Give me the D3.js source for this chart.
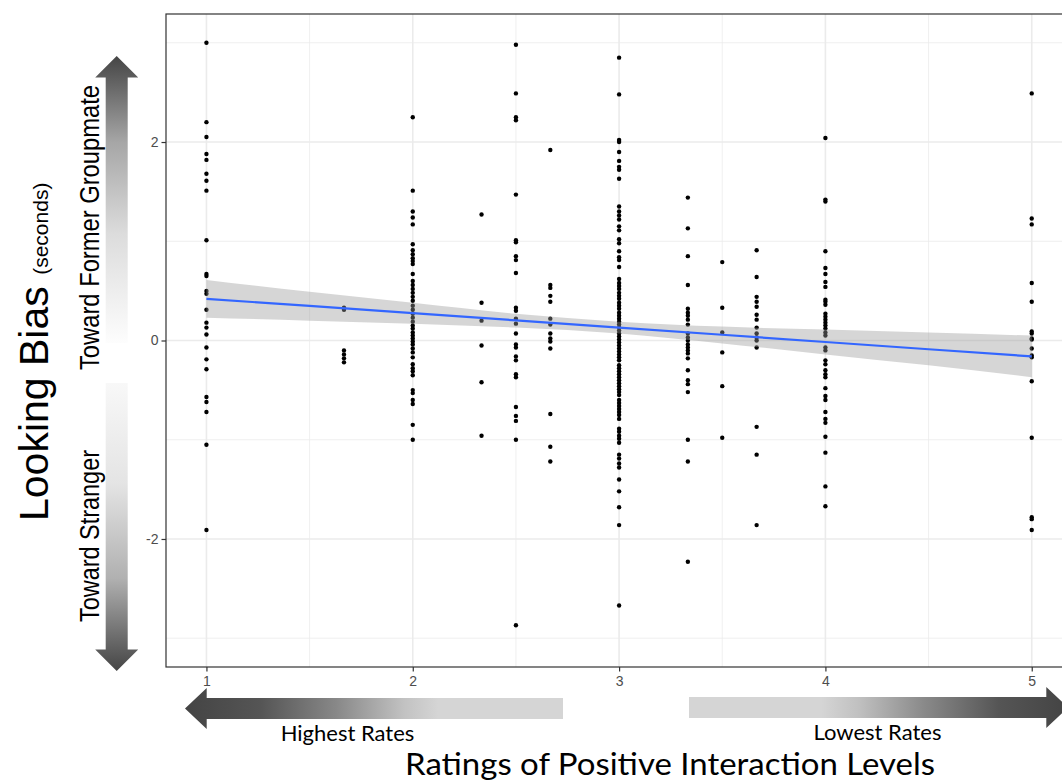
<!DOCTYPE html>
<html>
<head>
<meta charset="utf-8">
<script src="https://cdn.jsdelivr.net/npm/d3@7"></script>
<style>
  body { margin: 0; background: #fff; }
  svg { display: block; }
</style>
</head>
<body>
<svg id="chart"></svg>
<script>

// x levels (ratings) and the looking-bias values
var levels = [1, 5/3, 2, 7/3, 2.5, 8/3, 3, 10/3, 3.5, 11/3, 4, 5]

var bias1 = [3.0, 2.2, 2.05, 1.88, 1.82, 1.68, 1.61, 1.51, 1.01, 0.67, 0.65, 0.5, 0.47, 0.31, 0.18, 0.13, 0.06,
             -0.07, -0.19, -0.29, -0.57, -0.62, -0.72, -1.05, -1.91]
var bias1_67 = [0.33, 0.31, -0.1, -0.14, -0.18, -0.22]
var bias2 = [2.25, 1.51, 1.3, 1.24, 1.17, 0.97, 0.91, 0.87, 0.83, 0.8, 0.77, 0.67, 0.6, 0.56, 0.52, 0.48, 0.44,
             0.4, 0.35, 0.31, 0.27, 0.23, 0.19, 0.15, 0.12, 0.08, 0.05, 0.02, -0.01, -0.04, -0.08, -0.12, -0.17,
             -0.24, -0.28, -0.31, -0.35, -0.5, -0.53, -0.6, -0.64, -0.85, -1.0]
var bias2_33 = [1.27, 0.38, 0.2, -0.05, -0.42, -0.96]
var bias2_5 = [2.98, 2.49, 2.25, 2.22, 1.47, 1.01, 0.99, 0.85, 0.81, 0.68, 0.33, 0.3, 0.22, 0.17, 0.07, -0.04,
               -0.07, -0.16, -0.2, -0.34, -0.37, -0.67, -0.76, -0.81, -1.0, -2.87]
var bias2_67 = [1.92, 0.56, 0.53, 0.45, 0.39, 0.22, 0.16, 0.07, 0.02, -0.01, -0.08, -0.74, -1.07, -1.22]
var bias3 = [2.85, 2.48, 2.02, 2.0, 1.9, 1.81, 1.75, 1.72, 1.63, 1.35, 1.3, 1.26, 1.22, 1.15, 1.11, 1.02, 0.98,
             0.9, 0.84, 0.81, 0.74, 0.62, 0.58, 0.55, 0.52, 0.48, 0.45, 0.42, 0.38, 0.35, 0.32, 0.28, 0.25, 0.22,
             0.19, 0.16, 0.13, 0.1, 0.07, 0.04, 0.01, -0.02, -0.05, -0.08, -0.11, -0.14, -0.17, -0.2, -0.25,
             -0.28, -0.31, -0.34, -0.37, -0.4, -0.43, -0.46, -0.49, -0.52, -0.55, -0.6, -0.63, -0.66, -0.69,
             -0.72, -0.75, -0.79, -0.89, -0.92, -0.96, -0.99, -1.03, -1.15, -1.19, -1.24, -1.28, -1.4, -1.52,
             -1.68, -1.86, -2.67]
var bias3_33 = [1.44, 1.13, 0.85, 0.56, 0.32, 0.28, 0.25, 0.21, 0.16, 0.07, 0.03, 0.0, -0.04, -0.07, -0.1,
                -0.13, -0.18, -0.3, -0.4, -0.44, -0.52, -1.0, -1.22, -2.23]
var bias3_5 = [0.79, 0.33, 0.08, -0.12, -0.46, -0.98]
var bias3_67 = [0.91, 0.64, 0.44, 0.39, 0.34, 0.26, 0.21, 0.13, 0.07, 0.03, 0.0, -0.07, -0.87, -1.15, -1.86]
var bias4 = [2.04, 1.42, 1.4, 0.9, 0.73, 0.67, 0.59, 0.54, 0.41, 0.39, 0.36, 0.27, 0.24, 0.21, 0.18, 0.15,
             0.12, 0.08, 0.05, -0.07, -0.1, -0.2, -0.24, -0.3, -0.34, -0.37, -0.48, -0.56, -0.6, -0.72, -0.79,
             -0.83, -0.97, -1.13, -1.47, -1.67]
var bias5 = [2.49, 1.23, 1.17, 0.58, 0.39, 0.09, 0.07, 0.02, 0.01, -0.08, -0.15, -0.17, -0.41, -0.98, -1.78,
             -1.8, -1.91]

var biasByLevel = [bias1, bias1_67, bias2, bias2_33, bias2_5, bias2_67, bias3, bias3_33, bias3_5, bias3_67, bias4, bias5]

// linear fit and its confidence band
var fitX  = [1, 1.5, 2, 2.5, 3, 3.5, 4, 4.5, 5]
var fitY  = [0.42, 0.348, 0.275, 0.203, 0.13, 0.058, -0.015, -0.088, -0.16]
var fitLo = [0.23, 0.2, 0.17, 0.13, 0.07, -0.03, -0.14, -0.25, -0.37]
var fitHi = [0.61, 0.49, 0.38, 0.27, 0.19, 0.14, 0.11, 0.08, 0.05]

var xTicks = [1, 2, 3, 4, 5]
var xMinor = [1.5, 2.5, 3.5, 4.5]
var yTicks = [-2, 0, 2]
var yMinor = [-3, -1, 1, 3]

var width = 1062
var height = 784

var svg = d3.select('#chart')
            .attr('width', width)
            .attr('height', height)

var xScale = d3.scaleLinear()
               .domain([0.804, 5.2])
               .range([166, 1073])

var yScale = d3.scaleLinear()
               .domain([-3.29, 3.29])
               .range([667, 14])

var pLeft = xScale.range()[0], pRight = xScale.range()[1]
var pTop = yScale.range()[1], pBottom = yScale.range()[0]

// flatten to points
var points = []
levels.forEach(function(lv, i){
  biasByLevel[i].forEach(function(b){
    points.push({x: lv, y: b})
  })
})

var defs = svg.append('defs')

function addGradient(id, x1, y1, x2, y2, stops){
  var g = defs.append('linearGradient')
              .attr('id', id)
              .attr('gradientUnits', 'userSpaceOnUse')
              .attr('x1', x1).attr('y1', y1)
              .attr('x2', x2).attr('y2', y2)
  stops.forEach(function(s){
    g.append('stop').attr('offset', s[0]).attr('stop-color', s[1])
  })
}

// panel background + grid
var plot = svg.append('g')

plot.append('rect')
    .attr('x', pLeft).attr('y', pTop)
    .attr('width', pRight - pLeft).attr('height', pBottom - pTop)
    .attr('fill', '#fff')

plot.selectAll('.vminor').data(xMinor).enter().append('line')
    .attr('x1', function(d){ return xScale(d) }).attr('x2', function(d){ return xScale(d) })
    .attr('y1', pTop).attr('y2', pBottom)
    .attr('stroke', '#ebebeb').attr('stroke-width', 0.8)
plot.selectAll('.hminor').data(yMinor).enter().append('line')
    .attr('y1', function(d){ return yScale(d) }).attr('y2', function(d){ return yScale(d) })
    .attr('x1', pLeft).attr('x2', pRight)
    .attr('stroke', '#ebebeb').attr('stroke-width', 0.8)
plot.selectAll('.vmajor').data(xTicks).enter().append('line')
    .attr('x1', function(d){ return xScale(d) }).attr('x2', function(d){ return xScale(d) })
    .attr('y1', pTop).attr('y2', pBottom)
    .attr('stroke', '#ebebeb').attr('stroke-width', 1.6)
plot.selectAll('.hmajor').data(yTicks).enter().append('line')
    .attr('y1', function(d){ return yScale(d) }).attr('y2', function(d){ return yScale(d) })
    .attr('x1', pLeft).attr('x2', pRight)
    .attr('stroke', '#ebebeb').attr('stroke-width', 1.6)

// scatter
plot.selectAll('circle')
    .data(points)
    .enter()
    .append('circle')
    .attr('cx', function(d){ return xScale(d.x) })
    .attr('cy', function(d){ return yScale(d.y) })
    .attr('r', 2.2)
    .attr('fill', '#000')

// confidence band + fit line
var band = d3.area()
             .x(function(d, i){ return xScale(fitX[i]) })
             .y0(function(d, i){ return yScale(fitLo[i]) })
             .y1(function(d, i){ return yScale(fitHi[i]) })
             .curve(d3.curveMonotoneX)

plot.append('path')
    .attr('d', band(fitX))
    .attr('fill', '#999999')
    .attr('fill-opacity', 0.4)

var fitLine = d3.line()
                .x(function(d, i){ return xScale(fitX[i]) })
                .y(function(d, i){ return yScale(fitY[i]) })

plot.append('path')
    .attr('d', fitLine(fitX))
    .attr('fill', 'none')
    .attr('stroke', '#3366FF')
    .attr('stroke-width', 2.2)

plot.append('rect')
    .attr('x', pLeft).attr('y', pTop)
    .attr('width', pRight - pLeft).attr('height', pBottom - pTop)
    .attr('fill', 'none')
    .attr('stroke', '#333333')
    .attr('stroke-width', 1.2)

// axes
var xAxis = svg.append('g')
               .attr('transform', 'translate(0,' + pBottom + ')')
               .call(d3.axisBottom(xScale).tickValues(xTicks).tickSize(4.5).tickPadding(5).tickFormat(d3.format('d')))
var yAxis = svg.append('g')
               .attr('transform', 'translate(' + pLeft + ',0)')
               .call(d3.axisLeft(yScale).tickValues(yTicks).tickSize(4.5).tickPadding(3).tickFormat(d3.format('d')))

;[xAxis, yAxis].forEach(function(ax){
  ax.select('.domain').remove()
  ax.selectAll('line').attr('stroke', '#333333').attr('stroke-width', 1.2)
  ax.selectAll('text')
    .attr('fill', '#4d4d4d')
    .style('font-family', '"Liberation Sans", Arial, sans-serif')
    .style('font-size', '14px')
})
yAxis.selectAll('text').text(function(d){ return d < 0 ? '-' + Math.abs(d) : d })

// gradient arrows
addGradient('gUp', 0, 56, 0, 343, [[0, '#454545'], [0.3, '#a6a6a6'], [0.62, '#dcdcdc'], [1, '#fdfdfd']])
addGradient('gDown', 0, 383, 0, 671, [[0, '#f8f8f8'], [0.35, '#e4e4e4'], [0.68, '#b0b0b0'], [1, '#454545']])
addGradient('gLeft', 185, 0, 563, 0, [[0, '#444'], [0.2, '#555'], [0.4, '#888'], [0.58, '#c2c2c2'], [0.67, '#d5d5d5'], [1, '#d5d5d5']])
addGradient('gRight', 689, 0, 1067, 0, [[0, '#d5d5d5'], [0.35, '#d5d5d5'], [0.45, '#c0c0c0'], [0.62, '#8a8a8a'], [0.82, '#555'], [1, '#444']])

var arrows = svg.append('g')

var cx = 116.7, sh = 11, hh = 21.5, hl = 21.6
arrows.append('path')
      .attr('d', 'M' + cx + ',56 L' + (cx + hh) + ',' + (56 + hl) + ' L' + (cx + sh) + ',' + (56 + hl) +
                 ' L' + (cx + sh) + ',343 L' + (cx - sh) + ',343 L' + (cx - sh) + ',' + (56 + hl) +
                 ' L' + (cx - hh) + ',' + (56 + hl) + ' Z')
      .attr('fill', 'url(#gUp)')
arrows.append('path')
      .attr('d', 'M' + cx + ',671 L' + (cx + hh) + ',' + (671 - hl) + ' L' + (cx + sh) + ',' + (671 - hl) +
                 ' L' + (cx + sh) + ',383 L' + (cx - sh) + ',383 L' + (cx - sh) + ',' + (671 - hl) +
                 ' L' + (cx - hh) + ',' + (671 - hl) + ' Z')
      .attr('fill', 'url(#gDown)')

var cy = 708.5, hs = 10.5, hv = 20.5, hx = 21.7
arrows.append('path')
      .attr('d', 'M185,' + cy + ' L' + (185 + hx) + ',' + (cy - hv) + ' L' + (185 + hx) + ',' + (cy - hs) +
                 ' L563,' + (cy - hs) + ' L563,' + (cy + hs) + ' L' + (185 + hx) + ',' + (cy + hs) +
                 ' L' + (185 + hx) + ',' + (cy + hv) + ' Z')
      .attr('fill', 'url(#gLeft)')
var cy2 = 707.5
arrows.append('path')
      .attr('d', 'M1068,' + cy2 + ' L' + (1068 - hx) + ',' + (cy2 - hv) + ' L' + (1068 - hx) + ',' + (cy2 - hs) +
                 ' L689,' + (cy2 - hs) + ' L689,' + (cy2 + hs) + ' L' + (1068 - hx) + ',' + (cy2 + hs) +
                 ' L' + (1068 - hx) + ',' + (cy2 + hv) + ' Z')
      .attr('fill', 'url(#gRight)')

// labels
var sideFont = '"Liberation Sans", Arial, sans-serif'
var bottomFont = 'Lato, "Open Sans", sans-serif'

svg.append('text')
   .attr('transform', 'translate(99,370) rotate(-90)')
   .attr('textLength', 285).attr('lengthAdjust', 'spacingAndGlyphs')
   .style('font-family', sideFont).style('font-size', '27px')
   .text('Toward Former Groupmate')

svg.append('text')
   .attr('transform', 'translate(99,622) rotate(-90)')
   .attr('textLength', 172).attr('lengthAdjust', 'spacingAndGlyphs')
   .style('font-family', sideFont).style('font-size', '27px')
   .text('Toward Stranger')

var yTitle = svg.append('text')
   .attr('transform', 'translate(48,521) rotate(-90)')
   .style('font-family', sideFont)
yTitle.append('tspan').style('font-size', '41px').text('Looking Bias ')
yTitle.append('tspan').style('font-size', '21px').text('(seconds)')

svg.append('text')
   .attr('x', 347.5).attr('y', 741)
   .attr('text-anchor', 'middle')
   .style('font-family', bottomFont).style('font-size', '22px')
   .text('Highest Rates')

svg.append('text')
   .attr('x', 877.5).attr('y', 740)
   .attr('text-anchor', 'middle')
   .style('font-family', bottomFont).style('font-size', '22px')
   .text('Lowest Rates')

svg.append('text')
   .attr('x', 670).attr('y', 775)
   .attr('text-anchor', 'middle')
   .attr('textLength', 530).attr('lengthAdjust', 'spacingAndGlyphs')
   .style('font-family', bottomFont).style('font-size', '31px')
   .text('Ratings of Positive Interaction Levels')

</script>
</body>
</html>
